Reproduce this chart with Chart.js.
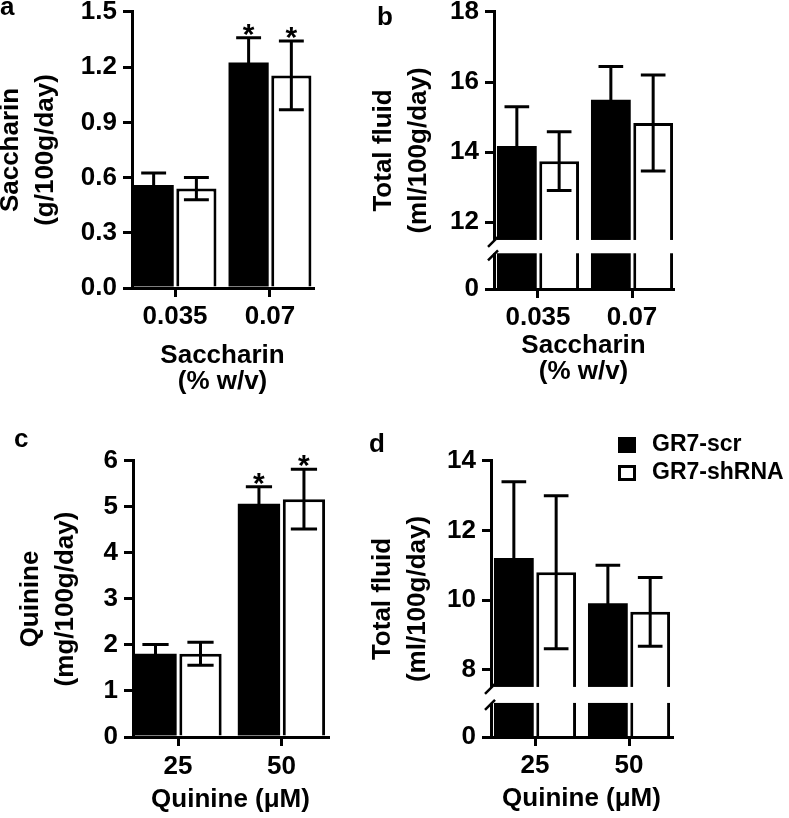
<!DOCTYPE html>
<html>
<head>
<meta charset="utf-8">
<script src="https://cdn.jsdelivr.net/npm/chart.js@4.4.0/dist/chart.umd.min.js"></script>
<style>
body { margin: 0; background: #fff; }
#page { position: relative; width: 789px; height: 818px; overflow: hidden; font-family: 'Liberation Sans', Arial, sans-serif; font-weight: bold; color: #000; }
canvas, .txt, .key { position: absolute; }
.letter { font-size: 26px; line-height: 26px; }
.legend { font-size: 23px; line-height: 23px; white-space: nowrap; }
.key { width: 18px; height: 16px; box-sizing: border-box; }
</style>
</head>
<body>
<div id="page">
  <canvas id="chartA" width="332" height="404" style="left:-7px;top:-9px"></canvas>
  <canvas id="chartB" width="319" height="394" style="left:366px;top:-9px"></canvas>
  <canvas id="chartC" width="327" height="373" style="left:13px;top:440px"></canvas>
  <canvas id="chartD" width="319" height="372" style="left:365px;top:440px"></canvas>
  <div class="txt letter" style="left:0px;top:-7px">a</div>
  <div class="txt letter" style="left:377px;top:3px">b</div>
  <div class="txt letter" style="left:14px;top:425px">c</div>
  <div class="txt letter" style="left:369px;top:430px">d</div>
  <div id="legend"></div>
</div>
<script>
const FONT = "'Liberation Sans', Arial, sans-serif";

// groups on the x axis
const saccCats = ['0.035', '0.07'];
const quinCats = ['25', '50'];
const seriesNames = ['GR7-scr', 'GR7-shRNA'];

// a: saccharin intake (g/100g/day), mean and SEM
const saccIntakeScr = [0.56, 1.225];
const saccIntakeScrErr = [0.065, 0.135];
const saccIntakeSh = [0.54, 1.155];
const saccIntakeShErr = [0.06, 0.187];
const saccStars = [false, true];

// b: total fluid during saccharin (ml/100g/day)
const saccFluidScr = [14.17, 15.49];
const saccFluidScrErr = [1.12, 0.95];
const saccFluidSh = [13.74, 14.83];
const saccFluidShErr = [0.84, 1.37];

// c: quinine intake (mg/100g/day)
const quinIntakeScr = [1.81, 5.07];
const quinIntakeScrErr = [0.2, 0.37];
const quinIntakeSh = [1.81, 5.17];
const quinIntakeShErr = [0.25, 0.65];
const quinStars = [false, true];

// d: total fluid during quinine (ml/100g/day)
const quinFluidScr = [11.21, 9.91];
const quinFluidScrErr = [2.19, 1.09];
const quinFluidSh = [10.8, 9.66];
const quinFluidShErr = [2.2, 0.99];

// tick labels
const saccIntakeTicks = [0, 0.3, 0.6, 0.9, 1.2, 1.5];
const saccFluidTicks = [0, 12, 14, 16, 18];
const quinIntakeTicks = [0, 1, 2, 3, 4, 5, 6];
const quinFluidTicks = [0, 8, 10, 12, 14];

Chart.defaults.color = '#000';
Chart.defaults.font.family = FONT;
Chart.defaults.font.weight = 'bold';
Chart.defaults.font.size = 26;

//White gap and slashes where the y axis is broken
const axisBreak = {
    id: 'axisBreak',
    afterDatasetsDraw(chart, args, opts) {
        if (!opts.from) return;
        const ctx = chart.ctx;
        const area = chart.chartArea;
        const yScale = chart.scales.y;
        const yHigh = yScale.getPixelForValue(opts.to);
        const yLow = yScale.getPixelForValue(opts.from);
        ctx.save();
        ctx.fillStyle = '#fff';
        ctx.fillRect(area.left - 12, yHigh, area.right - area.left + 24, yLow - yHigh);
        ctx.strokeStyle = '#000';
        ctx.lineWidth = 2.5;
        [yHigh, yLow].forEach(py => {
            ctx.beginPath();
            ctx.moveTo(area.left - 6, py + 7);
            ctx.lineTo(area.left + 4, py - 3);
            ctx.stroke();
        });
        ctx.restore();
    }
};

//SEM bars and significance stars
const errorBars = {
    id: 'errorBars',
    afterDatasetsDraw(chart, args, opts) {
        const ctx = chart.ctx;
        const yScale = chart.scales.y;
        const stars = opts.stars || [];
        ctx.save();
        ctx.strokeStyle = '#000';
        ctx.fillStyle = '#000';
        ctx.lineWidth = 3;
        chart.data.datasets.forEach((ds, i) => {
            chart.getDatasetMeta(i).data.forEach((bar, j) => {
                const v = ds.data[j].y;
                const top = yScale.getPixelForValue(v + ds.errors[j]);
                const bottom = yScale.getPixelForValue(v - ds.errors[j]);
                const half = bar.width * 0.31;
                ctx.beginPath();
                ctx.moveTo(bar.x, top);
                ctx.lineTo(bar.x, bottom);
                ctx.moveTo(bar.x - half, top);
                ctx.lineTo(bar.x + half, top);
                ctx.moveTo(bar.x - half, bottom);
                ctx.lineTo(bar.x + half, bottom);
                ctx.stroke();
                if (stars[j]) {
                    ctx.font = 'bold 30px ' + FONT;
                    ctx.textAlign = 'center';
                    ctx.textBaseline = 'alphabetic';
                    ctx.fillText('*', bar.x, top + 6);
                }
            });
        });
        ctx.restore();
    }
};

function toPoints(values) {
    return values.map((v, i) => ({x: i, y: v}));
}

function createGraph(id, p) {
    // where each y tick sits; on a broken axis the 0 tick sits at the bottom
    const tickPos = p.yTicks.map(v => (p.brk && v === 0) ? p.brk.zero : v);
    return new Chart(document.getElementById(id), {
        type: 'bar',
        data: {
            datasets: [{
                label: seriesNames[0],
                data: toPoints(p.scr),
                errors: p.scrErr,
                backgroundColor: '#000',
                borderWidth: 0
            }, {
                label: seriesNames[1],
                data: toPoints(p.sh),
                errors: p.shErr,
                backgroundColor: '#fff',
                borderColor: '#000',
                borderWidth: 3
            }]
        },
        options: {
            responsive: false,
            animation: false,
            categoryPercentage: p.cp,
            barPercentage: 0.94,
            layout: {padding: {top: 20, right: 12, left: 0, bottom: 0}},
            plugins: {
                legend: {display: false},
                tooltip: {enabled: false},
                axisBreak: p.brk || {},
                errorBars: {stars: p.stars || []}
            },
            scales: {
                x: {
                    type: 'linear',
                    offset: false,
                    min: p.xMin,
                    max: p.xMax,
                    afterBuildTicks: s => { s.ticks = p.cats.map((c, i) => ({value: i})); },
                    afterFit: s => { s.height = p.xH; },
                    ticks: {
                        callback: (v, i) => p.cats[i],
                        padding: p.xPad,
                        maxRotation: 0,
                        autoSkip: false,
                        font: {size: 26, lineHeight: 1.15}
                    },
                    grid: {offset: false, drawOnChartArea: false, tickLength: 9, tickWidth: 3, tickColor: '#000', color: '#000', lineWidth: 3},
                    border: {color: '#000', width: 3, z: 1},
                    title: {display: true, text: p.xTitle, padding: 0, font: {size: 26, lineHeight: 1}}
                },
                y: {
                    type: 'linear',
                    min: tickPos[0],
                    max: tickPos[tickPos.length - 1],
                    afterBuildTicks: s => { s.ticks = tickPos.map(v => ({value: v})); },
                    afterFit: s => { s.width = p.yW; },
                    ticks: {
                        callback: (v, i) => p.yLabels[i],
                        padding: 6,
                        autoSkip: false,
                        font: {size: 26, lineHeight: 1.15}
                    },
                    grid: {drawOnChartArea: false, tickLength: 9, tickWidth: 3, tickColor: '#000', color: '#000', lineWidth: 3},
                    border: {color: '#000', width: 3},
                    title: {display: true, text: p.yTitle, padding: 0, font: {size: 26, lineHeight: 1.35}}
                }
            }
        },
        plugins: [axisBreak, errorBars]
    });
}

createGraph('chartA', {
    cats: saccCats, scr: saccIntakeScr, scrErr: saccIntakeScrErr, sh: saccIntakeSh, shErr: saccIntakeShErr,
    stars: saccStars, yTicks: saccIntakeTicks, yLabels: saccIntakeTicks.map(v => v.toFixed(1)),
    yTitle: ['Saccharin', '(g/100g/day)'], xTitle: ['Saccharin', '(% w/v)'],
    xMin: -0.453, xMax: 1.453, cp: 0.9, yW: 139, xH: 107, xPad: 5
});

createGraph('chartB', {
    cats: saccCats, scr: saccFluidScr, scrErr: saccFluidScrErr, sh: saccFluidSh, shErr: saccFluidShErr,
    yTicks: saccFluidTicks, yLabels: saccFluidTicks.map(String),
    brk: {zero: 10.09, from: 11.11, to: 11.49},
    yTitle: ['Total fluid', '(ml/100g/day)'], xTitle: ['Saccharin', '(% w/v)'],
    xMin: -0.468, xMax: 1.436, cp: 0.9, yW: 128, xH: 96, xPad: 5
});

createGraph('chartC', {
    cats: quinCats, scr: quinIntakeScr, scrErr: quinIntakeScrErr, sh: quinIntakeSh, shErr: quinIntakeShErr,
    stars: quinStars, yTicks: quinIntakeTicks, yLabels: quinIntakeTicks.map(String),
    yTitle: ['Quinine', '(mg/100g/day)'], xTitle: 'Quinine (\u03bcM)',
    xMin: -0.435, xMax: 1.45, cp: 0.87, yW: 120, xH: 76, xPad: 6
});

createGraph('chartD', {
    cats: quinCats, scr: quinFluidScr, scrErr: quinFluidScrErr, sh: quinFluidSh, shErr: quinFluidShErr,
    yTicks: quinFluidTicks, yLabels: quinFluidTicks.map(String),
    brk: {zero: 6.06, from: 7.04, to: 7.5},
    yTitle: ['Total fluid', '(ml/100g/day)'], xTitle: 'Quinine (\u03bcM)',
    xMin: -0.468, xMax: 1.457, cp: 0.9, yW: 126, xH: 75, xPad: 5
});

//Legend next to panel d
const legend = document.getElementById('legend');
seriesNames.forEach((name, i) => {
    const key = document.createElement('div');
    key.className = 'key';
    key.style.left = '618px';
    key.style.top = (437 + i * 28) + 'px';
    key.style.background = i === 0 ? '#000' : '#fff';
    if (i === 1) key.style.border = '3px solid #000';
    legend.appendChild(key);
    const label = document.createElement('div');
    label.className = 'txt legend';
    label.style.left = '652px';
    label.style.top = (432 + i * 28) + 'px';
    label.innerText = name;
    legend.appendChild(label);
});
</script>
</body>
</html>
